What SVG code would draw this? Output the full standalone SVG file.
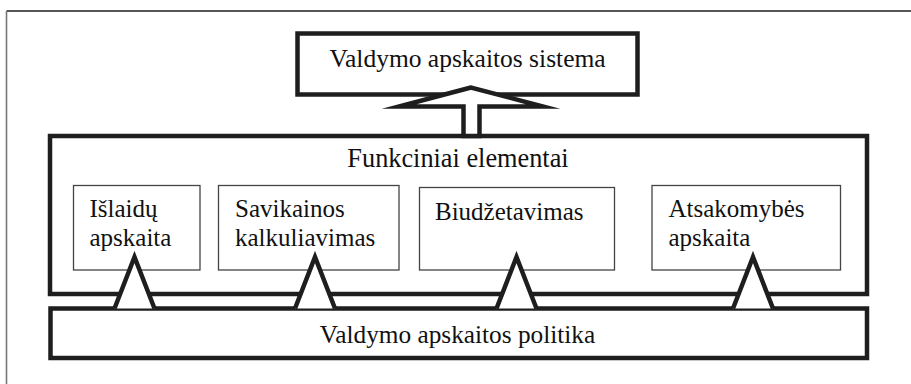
<svg xmlns="http://www.w3.org/2000/svg" width="911" height="384" viewBox="0 0 911 384">
<style>
  .lbl { font-family: 'Liberation Serif', 'Times New Roman', 'DejaVu Serif', serif; fill: #111; }
  .thick { fill: #fff; stroke: #1e1e1e; stroke-width: 4.5; stroke-linejoin: miter; }
  .thin { fill: #fff; stroke: #444; stroke-width: 1.3; }
  .arrow { fill: #fff; stroke: #1e1e1e; stroke-width: 4.5; stroke-linejoin: miter; stroke-miterlimit: 10; }
</style>
<rect width="911" height="384" fill="#fff"/>
<g id="frame">
  <line x1="6.5" y1="11" x2="911" y2="11" stroke="#1e1e1e" stroke-width="1.6"/>
  <line x1="6.5" y1="11" x2="6.5" y2="384" stroke="#777" stroke-width="1.6"/>
</g>
<g id="top-box">
  <rect class="thick" x="297.5" y="33.5" width="340" height="61"/>
  <text class="lbl" font-family="Liberation Serif, serif" x="467.5" y="67" font-size="25.5" text-anchor="middle">Valdymo apskaitos sistema</text>
</g>
<g id="functional-box">
  <rect class="thick" x="50" y="136" width="817" height="158"/>
  <text class="lbl" font-family="Liberation Serif, serif" x="458" y="167" font-size="26.3" text-anchor="middle">Funkciniai elementai</text>
</g>
<g id="islaidu">
  <rect class="thin" x="73.5" y="185.5" width="126.5" height="84.5"/>
  <text class="lbl" font-family="Liberation Serif, serif" x="89.5" y="217" font-size="25">Išlaidų</text>
  <text class="lbl" font-family="Liberation Serif, serif" x="89.5" y="246" font-size="25">apskaita</text>
</g>
<g id="savikainos">
  <rect class="thin" x="218.5" y="185.5" width="180.5" height="84.5"/>
  <text class="lbl" font-family="Liberation Serif, serif" x="235" y="217" font-size="25">Savikainos</text>
  <text class="lbl" font-family="Liberation Serif, serif" x="235" y="246" font-size="25">kalkuliavimas</text>
</g>
<g id="biudzetavimas">
  <rect class="thin" x="419.5" y="187.5" width="195" height="82.5"/>
  <text class="lbl" font-family="Liberation Serif, serif" x="435" y="220" font-size="25">Biudžetavimas</text>
</g>
<g id="atsakomybes">
  <rect class="thin" x="652" y="185.5" width="188.5" height="84.5"/>
  <text class="lbl" font-family="Liberation Serif, serif" x="668.5" y="217" font-size="25">Atsakomybės</text>
  <text class="lbl" font-family="Liberation Serif, serif" x="668.5" y="246" font-size="25">apskaita</text>
</g>
<g id="policy-box">
  <rect class="thick" x="50.5" y="308.5" width="816.5" height="49.5"/>
  <text class="lbl" font-family="Liberation Serif, serif" x="457.5" y="343" font-size="25.3" text-anchor="middle">Valdymo apskaitos politika</text>
</g>
<g id="connectors">
  <polygon class="arrow" points="471,87.5 399,106.5 463.5,106.5 463.5,136 479.5,136 479.5,106.5 543,106.5"/>
  <polyline class="arrow" points="114.5,308.5 134.5,257 154.5,308.5"/>
  <polyline class="arrow" points="295,308.5 315,257 335,308.5"/>
  <polyline class="arrow" points="496.5,308.5 516.5,257 536.5,308.5"/>
  <polyline class="arrow" points="733,308.5 753,257 773,308.5"/>
</g>
</svg>
